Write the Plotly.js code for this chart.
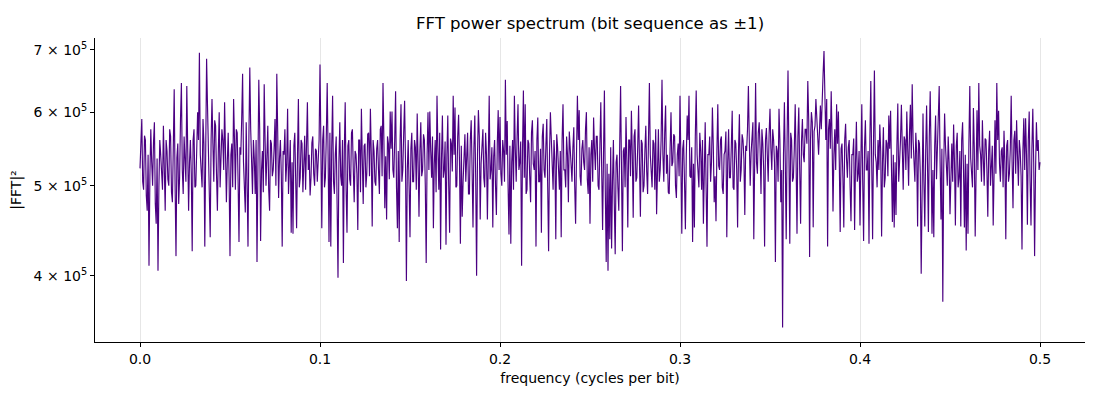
<!DOCTYPE html>
<html>
<head>
<meta charset="utf-8">
<script src="https://cdn.plot.ly/plotly-3.0.1.min.js"></script>
<style>
  html, body { margin: 0; padding: 0; background: #fff; }
  #chart { width: 1100px; height: 400px; }
</style>
</head>
<body>
<div id="chart"></div>
<script>
// |FFT|^2 in thousands, one value per rfft bin k = 0..1000 of a 2000-bit sequence
const powerK = [
  522, 548, 590, 505, 495, 566, 560, 488, 470, 540, 410, 512, 575, 530, 500, 556, 585, 478, 455, 535,
  405, 498, 560, 540, 520, 495, 580, 515, 470, 560, 545, 508, 500, 575, 565, 492, 480, 550, 635, 500,
  420, 536, 555, 478, 510, 590, 645, 520, 490, 565, 540, 505, 640, 548, 470, 530, 560, 515, 425, 560,
  575, 498, 500, 545, 600, 560, 695, 540, 520, 498, 590, 555, 430, 572, 685, 610, 540, 505, 440, 560,
  620, 555, 505, 588, 580, 515, 470, 542, 600, 498, 525, 575, 560, 520, 615, 550, 480, 530, 570, 510,

  420, 540, 555, 498, 620, 560, 495, 575, 570, 505, 435, 550, 540, 590, 660, 530, 505, 468, 585, 520,
  430, 565, 670, 575, 515, 490, 560, 535, 490, 560, 414, 540, 650, 575, 436, 520, 545, 492, 643, 560,
  500, 538, 580, 495, 470, 560, 555, 512, 520, 548, 590, 500, 660, 572, 485, 535, 560, 515, 430, 545,
  540, 575, 505, 528, 605, 490, 515, 560, 445, 530, 444, 552, 570, 500, 450, 540, 620, 498, 510, 560,
  555, 492, 530, 566, 495, 545, 615, 520, 540, 488, 510, 556, 565, 515, 500, 548, 545, 505, 525, 560,

  675, 520, 450, 560, 580, 498, 510, 565, 645, 540, 435, 570, 430, 548, 625, 505, 490, 540, 565, 478,
  398, 530, 585, 512, 500, 560, 413, 545, 615, 495, 445, 552, 560, 508, 500, 570, 575, 520, 480, 545,
  540, 515, 448, 560, 560, 492, 605, 535, 478, 552, 555, 498, 515, 568, 570, 512, 605, 540, 452, 560,
  545, 505, 500, 548, 560, 520, 490, 575, 580, 512, 645, 560, 473, 538, 460, 565, 555, 508, 601, 548,
  601, 520, 510, 560, 632, 498, 450, 545, 435, 560, 612, 505, 520, 570, 617, 530, 395, 520, 560, 498,

  440, 548, 570, 505, 505, 560, 550, 495, 598, 530, 463, 545, 585, 512, 520, 568, 560, 500, 413, 540,
  600, 520, 601, 545, 510, 565, 450, 528, 560, 492, 625, 548, 495, 570, 427, 535, 595, 510, 520, 558,
  432, 540, 595, 500, 445, 562, 555, 518, 625, 540, 607, 498, 500, 565, 596, 530, 433, 552, 463, 505,
  550, 568, 505, 535, 570, 490, 490, 560, 588, 520, 451, 548, 595, 510, 400, 540, 603, 565, 460, 528,
  545, 575, 510, 498, 570, 540, 460, 560, 625, 508, 520, 550, 451, 538, 560, 500, 465, 555, 603, 520,

  593, 515, 500, 560, 545, 505, 650, 540, 587, 498, 443, 552, 433, 530, 560, 495, 625, 548, 505, 565,
  612, 520, 530, 558, 410, 545, 633, 510, 612, 490, 495, 560, 555, 512, 480, 570, 588, 528, 520, 545,
  430, 560, 592, 505, 505, 548, 445, 565, 583, 520, 510, 552, 590, 498, 425, 540, 600, 562, 515, 495,
  560, 532, 438, 568, 550, 510, 495, 545, 440, 560, 612, 520, 520, 498, 565, 540, 480, 572, 545, 515,
  505, 550, 578, 500, 455, 540, 625, 560, 603, 512, 500, 548, 560, 530, 520, 575, 600, 508, 490, 550,

  455, 540, 560, 505, 592, 548, 520, 565, 565, 500, 495, 552, 615, 520, 448, 540, 633, 495, 414, 528,
  405, 515, 438, 550, 428, 505, 560, 478, 422, 530, 540, 498, 470, 552, 640, 520, 425, 545, 550, 498,
  593, 530, 451, 560, 560, 512, 602, 540, 462, 565, 575, 505, 510, 550, 610, 528, 463, 560, 555, 492,
  500, 545, 580, 518, 490, 562, 645, 540, 515, 498, 560, 555, 495, 575, 466, 532, 575, 505, 520, 560,
  650, 540, 505, 570, 610, 515, 540, 492, 490, 548, 600, 525, 530, 568, 565, 500, 485, 540, 555, 512,

  625, 530, 444, 548, 560, 505, 449, 540, 595, 560, 625, 512, 510, 550, 435, 528, 451, 565, 633, 540,
  520, 498, 570, 545, 495, 560, 455, 520, 585, 498, 430, 540, 540, 565, 505, 530, 607, 552, 480, 512,
  458, 545, 612, 525, 520, 560, 565, 498, 490, 540, 545, 572, 440, 530, 575, 510, 510, 550, 602, 498,
  495, 560, 555, 520, 451, 545, 597, 505, 520, 568, 560, 535, 465, 552, 545, 575, 640, 560, 500, 542,
  570, 585, 438, 550, 645, 530, 515, 570, 585, 548, 490, 575, 555, 520, 430, 560, 577, 540, 505, 568,

  605, 548, 520, 575, 560, 530, 414, 552, 545, 505, 605, 560, 480, 520, 352, 540, 615, 528, 438, 560,
  665, 545, 433, 570, 560, 505, 510, 548, 612, 530, 444, 565, 607, 520, 455, 558, 590, 540, 530, 575,
  575, 555, 648, 590, 419, 560, 600, 585, 451, 572, 580, 620, 600, 565, 540, 598, 610, 575, 632, 660,
  698, 590, 560, 620, 430, 575, 590, 548, 632, 560, 469, 540, 575, 520, 612, 555, 601, 530, 446, 548,
  555, 510, 451, 560, 583, 535, 510, 550, 560, 498, 458, 540, 540, 562, 448, 528, 586, 505, 515, 545,

  453, 530, 612, 505, 436, 550, 588, 520, 520, 545, 433, 562, 648, 530, 438, 555, 665, 540, 530, 498,
  560, 520, 582, 545, 441, 530, 578, 498, 510, 560, 555, 512, 595, 548, 602, 520, 457, 540, 451, 530,
  465, 552, 613, 505, 525, 560, 611, 540, 495, 565, 560, 520, 601, 548, 500, 570, 611, 535, 643, 560,
  520, 505, 570, 542, 452, 560, 555, 515, 402, 538, 598, 505, 452, 545, 610, 528, 446, 565, 632, 540,
  444, 520, 440, 552, 595, 508, 560, 575, 640, 530, 460, 548, 375, 520, 598, 552, 520, 500, 565, 530,

  466, 540, 555, 505, 582, 530, 453, 552, 570, 498, 510, 545, 452, 560, 585, 520, 451, 540, 426, 528,
  444, 555, 640, 535, 520, 498, 606, 548, 441, 560, 603, 520, 645, 552, 540, 505, 588, 535, 500, 562,
  560, 520, 463, 545, 573, 500, 520, 552, 453, 530, 588, 515, 645, 560, 602, 528, 505, 545, 550, 498,
  573, 530, 438, 552, 560, 505, 515, 548, 625, 530, 473, 560, 573, 515, 588, 540, 500, 560, 545, 512,
  427, 545, 591, 520, 591, 540, 454, 560, 601, 505, 453, 548, 605, 530, 420, 515, 585, 545, 560, 520,
  530
];
const nBits = 2000;
const yTickVals = [4e5, 5e5, 6e5, 7e5];
const yTickText = ["4 × 10<sup>5</sup>", "5 × 10<sup>5</sup>", "6 × 10<sup>5</sup>", "7 × 10<sup>5</sup>"];
const xTickVals = [0, 0.1, 0.2, 0.3, 0.4, 0.5];

const freq = powerK.map((_, k) => k / nBits);
const power = powerK.map((v) => v * 1000);

const font = { family: "DejaVu Sans, sans-serif", size: 14, color: "#000" };

const trace = {
  x: freq,
  y: power,
  type: "scatter",
  mode: "lines",
  line: { color: "#4b0082", width: 1.15 },
  hoverinfo: "skip",
};

const layout = {
  width: 1100,
  height: 400,
  margin: { l: 95, r: 15, t: 38, b: 58 },
  paper_bgcolor: "#ffffff",
  plot_bgcolor: "#ffffff",
  font,
  showlegend: false,
  title: {
    text: "FFT power spectrum (bit sequence as ±1)",
    font: { family: "DejaVu Sans, sans-serif", size: 16.6, color: "#000" },
    x: 0.5,
    xref: "paper",
    y: 0.943,
    yref: "container",
    yanchor: "middle",
  },
  xaxis: {
    range: [-0.025, 0.525],
    tickvals: xTickVals,
    tickformat: ".1f",
    ticks: "outside",
    ticklen: 4,
    tickcolor: "#000",
    showline: true,
    linecolor: "#000",
    linewidth: 1,
    showgrid: true,
    gridcolor: "#e6e6e6",
    gridwidth: 1,
    zeroline: false,
    title: { text: "frequency (cycles per bit)", standoff: 7, font },
  },
  yaxis: {
    type: "log",
    range: [Math.log10(3.395e5), Math.log10(7.21e5)],
    tickvals: yTickVals,
    ticktext: yTickText,
    ticks: "outside",
    ticklen: 4,
    tickcolor: "#000",
    showline: true,
    linecolor: "#000",
    linewidth: 1,
    showgrid: false,
    zeroline: false,
    title: { text: "|FFT|²", standoff: 8, font },
  },
};

Plotly.newPlot("chart", [trace], layout, { displayModeBar: false, staticPlot: true });
</script>
</body>
</html>
